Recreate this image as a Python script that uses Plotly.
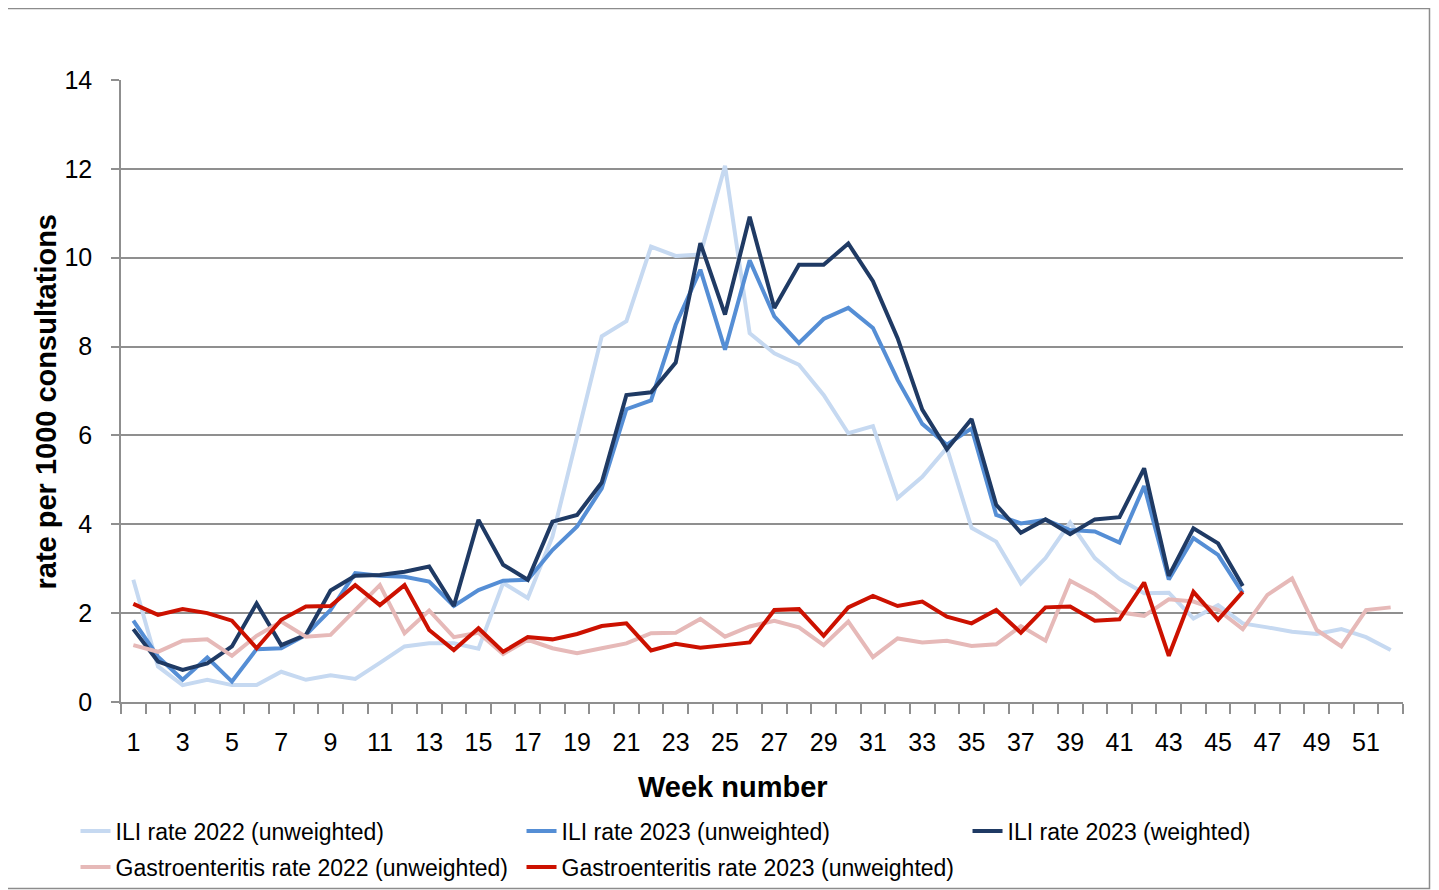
import plotly.graph_objects as go

weeks = list(range(1, 53))

ili_2022 = [2.75, 0.8, 0.38, 0.5, 0.38, 0.38, 0.68, 0.5, 0.6, 0.52, 0.88, 1.25, 1.32, 1.32, 1.2,
            2.68, 2.34, 3.72, 5.97, 8.23, 8.57, 10.25, 10.04, 10.07, 12.07, 8.3, 7.85, 7.59, 6.91,
            6.05, 6.21, 4.59, 5.07, 5.72, 3.92, 3.61, 2.67, 3.24, 4.04, 3.24, 2.77, 2.45, 2.46,
            1.88, 2.18, 1.77, 1.68, 1.58, 1.53, 1.64, 1.46, 1.17]
ili_2023_unweighted = [1.83, 1.02, 0.5, 1.0, 0.46, 1.19, 1.21, 1.51, 2.07, 2.9, 2.84, 2.82, 2.71,
                       2.16, 2.52, 2.73, 2.75, 3.42, 3.95, 4.81, 6.59, 6.79, 8.49, 9.73, 7.93, 9.94,
                       8.68, 8.08, 8.62, 8.87, 8.42, 7.25, 6.26, 5.79, 6.16, 4.21, 4.02, 4.1, 3.87,
                       3.84, 3.59, 4.86, 2.76, 3.69, 3.31, 2.45]
ili_2023_weighted = [1.64, 0.91, 0.72, 0.87, 1.25, 2.22, 1.28, 1.51, 2.51, 2.84, 2.86, 2.93, 3.05,
                     2.16, 4.1, 3.09, 2.75, 4.06, 4.21, 4.94, 6.91, 6.97, 7.64, 10.33, 8.72, 10.92,
                     8.87, 9.84, 9.84, 10.32, 9.47, 8.19, 6.58, 5.69, 6.37, 4.44, 3.81, 4.11, 3.78,
                     4.11, 4.16, 5.26, 2.84, 3.91, 3.57, 2.61]
gastro_2022 = [1.28, 1.13, 1.38, 1.41, 1.04, 1.49, 1.81, 1.47, 1.51, 2.07, 2.63, 1.55, 2.06, 1.46,
               1.56, 1.08, 1.40, 1.21, 1.1, 1.21, 1.32, 1.55, 1.56, 1.87, 1.47, 1.7, 1.83, 1.68,
               1.28, 1.81, 1.01, 1.43, 1.34, 1.38, 1.26, 1.3, 1.71, 1.38, 2.73, 2.43, 2.02, 1.94,
               2.31, 2.26, 2.07, 1.64, 2.41, 2.78, 1.62, 1.25, 2.07, 2.13]
gastro_2023 = [2.21, 1.96, 2.09, 2.0, 1.83, 1.21, 1.85, 2.15, 2.16, 2.63, 2.18, 2.63, 1.62, 1.17,
               1.66, 1.13, 1.46, 1.41, 1.53, 1.71, 1.77, 1.16, 1.31, 1.22, 1.28, 1.34, 2.07, 2.09,
               1.49, 2.13, 2.39, 2.16, 2.26, 1.92, 1.77, 2.07, 1.56, 2.13, 2.15, 1.83, 1.86, 2.69,
               1.04, 2.48, 1.85, 2.48]

series_names = ["ILI rate 2022 (unweighted)", "ILI rate 2023 (unweighted)", "ILI rate 2023 (weighted)",
                "Gastroenteritis rate 2022 (unweighted)", "Gastroenteritis rate 2023 (unweighted)"]
series_values = [ili_2022, ili_2023_unweighted, ili_2023_weighted, gastro_2022, gastro_2023]
series_colors = ["#C6D9F1", "#558ED5", "#1F3A64", "#E6B9B8", "#CC1100"]
series_legend = ["legend", "legend", "legend", "legend2", "legend2"]

tick_labels = [str(w) if w % 2 == 1 else "" for w in weeks]

FONT = "Liberation Sans, Arial, sans-serif"
GRID = "#8F8F8F"

# page body has an 8px margin; positions below are given in page pixels
OFF = 8
W, H = 1439, 890
PL, PR, PT, PB = 120.5, 1403, 80, 702          # plot area in page pixels
ML, MT = PL - OFF, PT - OFF
MR, MB = W - (PR - OFF), H - (PB - OFF)
PW, PH = W - ML - MR, H - MT - MB


def px_x(p):
    return (p - PL) / PW


def px_y(p):
    return (PB - p) / PH


fig = go.Figure()
for name, vals, col, lg in zip(series_names, series_values, series_colors, series_legend):
    fig.add_trace(go.Scatter(
        x=weeks[:len(vals)], y=vals, name=name, mode="lines", legend=lg,
        line=dict(color=col, width=4), hoverinfo="x+y+name",
    ))

legend_common = dict(
    orientation="h", xanchor="left", yanchor="middle",
    entrywidth=401, entrywidthmode="pixels",
    font=dict(family=FONT, size=23, color="black"), traceorder="normal",
    itemwidth=30, bgcolor="rgba(0,0,0,0)",
)

fig.update_layout(
    width=W, height=H,
    margin=dict(l=ML, r=MR, t=MT, b=MB, autoexpand=False),
    paper_bgcolor="white", plot_bgcolor="white",
    font=dict(family=FONT, color="black", size=23),
    showlegend=True,
    legend=dict(x=px_x(75), y=px_y(831), **legend_common),
    legend2=dict(x=px_x(75), y=px_y(867), **legend_common),
    xaxis=dict(
        type="category", tickmode="array", tickvals=weeks, ticktext=tick_labels,
        categoryorder="array", categoryarray=weeks, range=[-0.5, len(weeks) - 0.5],
        tickson="boundaries", ticks="outside", ticklen=10, tickwidth=1.5, tickcolor=GRID,
        showline=True, linecolor=GRID, linewidth=1.5, showgrid=False, automargin=False,
        tickangle=0, tickfont=dict(family=FONT, size=25), ticklabelstandoff=17,
    ),
    yaxis=dict(
        range=[0, 14], tickmode="linear", tick0=0, dtick=2, automargin=False,
        ticks="outside", ticklen=8, tickwidth=1.5, tickcolor=GRID,
        showline=True, linecolor=GRID, linewidth=1.5,
        showgrid=True, gridcolor=GRID, gridwidth=1.5, zeroline=False,
        tickfont=dict(family=FONT, size=25), ticklabelstandoff=14,
    ),
    annotations=[
        dict(text="<b>Week number</b>", x=px_x(733), y=px_y(787), xref="paper", yref="paper",
             xanchor="center", yanchor="middle", showarrow=False,
             font=dict(family=FONT, size=29, color="black")),
        dict(text="<b>rate per 1000 consultations</b>", x=px_x(45), y=px_y(402),
             xref="paper", yref="paper", xanchor="center", yanchor="middle",
             textangle=-90, showarrow=False,
             font=dict(family=FONT, size=29, color="black")),
    ],
    shapes=[
        dict(type="rect", xref="paper", yref="paper",
             x0=px_x(6.5), x1=px_x(1429.5), y0=px_y(888.5), y1=px_y(8.5),
             line=dict(color="#8C8C8C", width=1.5), fillcolor="rgba(0,0,0,0)", layer="below"),
    ],
)

fig.write_html("out.html")
